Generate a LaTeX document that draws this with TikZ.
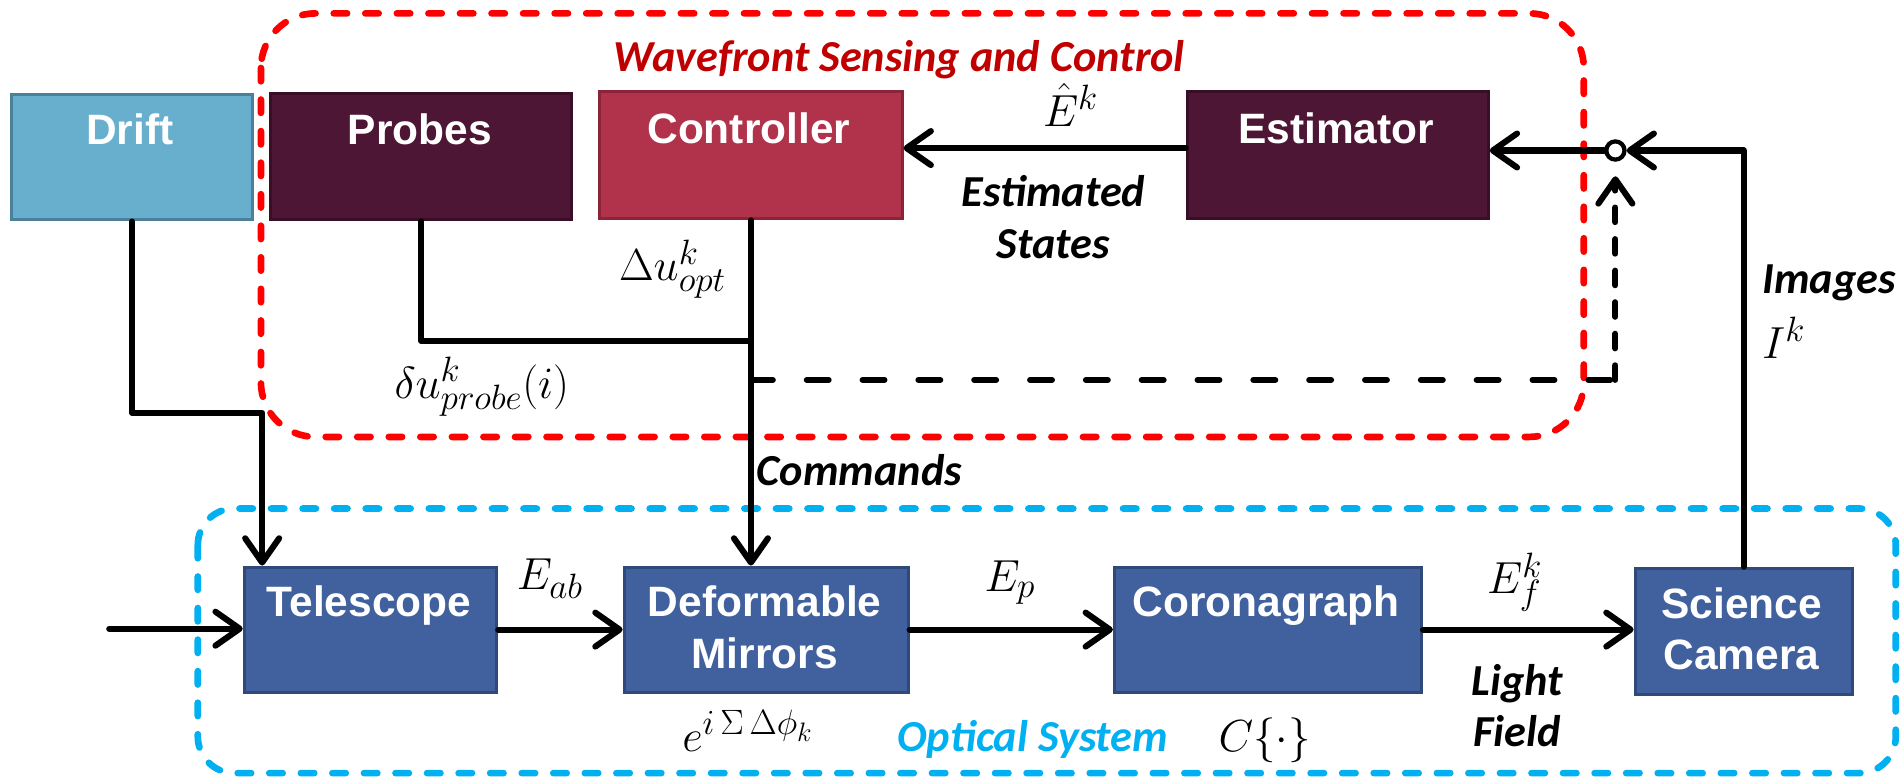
\RequirePackage{fix-cm}
\documentclass[tikz,border=0pt]{standalone}
\usepackage{fontspec}
\setmainfont{Liberation Sans}
\newfontfamily\gillfont{Carlito}
\DeclareMathSizes{37}{37}{29}{22}
\usetikzlibrary{arrows.meta,calc}
\definecolor{driftfill}{RGB}{103,175,205}
\definecolor{driftdraw}{RGB}{74,128,153}
\definecolor{maroonfill}{RGB}{77,22,52}
\definecolor{maroondraw}{RGB}{58,14,38}
\definecolor{ctrlfill}{RGB}{176,51,75}
\definecolor{ctrldraw}{RGB}{139,36,56}
\definecolor{optfill}{RGB}{65,97,158}
\definecolor{optdraw}{RGB}{47,74,122}
\definecolor{wfsred}{RGB}{255,0,0}
\definecolor{titlered}{RGB}{192,0,0}
\definecolor{optblue}{RGB}{0,176,240}
\tikzset{
  box/.style={draw, line width=2.5pt, anchor=north west, inner sep=0pt},
  btxt/.style={text=white, font=\fontsize{35}{40}\selectfont\bfseries, anchor=base, inner sep=0pt},
  itxt/.style={font=\gillfont\bfseries\itshape\fontsize{36.5}{40}\selectfont, anchor=base, inner sep=0pt},
  mtxt/.style={font=\fontsize{37}{40}\selectfont, anchor=base, inner sep=0pt},
  conn/.style={line width=5pt, line cap=round, line join=round},
  arr/.style={conn, -{Straight Barb[length=20pt,width=28pt,round]}},
  group/.style={line width=5.5pt, line cap=round, dash pattern=on 11pt off 15pt},
}
\begin{document}
\begin{tikzpicture}[x=1pt,y=-1pt]
\useasboundingbox (0,0) rectangle (1568,641);
% group frames
\draw[group, wfsred, rounded corners=45pt] (215,11) rectangle (1305,360);
\draw[group, optblue, rounded corners=30pt] (163,419) rectangle (1562,637);
% boxes
\node[box, fill=driftfill, draw=driftdraw, minimum width=199pt, minimum height=103pt] (drift) at (8,77) {};
\node[box, fill=maroonfill, draw=maroondraw, minimum width=248pt, minimum height=104pt] (probes) at (222,76) {};
\node[box, fill=ctrlfill, draw=ctrldraw, minimum width=249pt, minimum height=105pt] (ctrl) at (493,74) {};
\node[box, fill=maroonfill, draw=maroondraw, minimum width=248pt, minimum height=105pt] (est) at (977,74) {};
\node[box, fill=optfill, draw=optdraw, minimum width=208pt, minimum height=103pt] (tel) at (200,466) {};
\node[box, fill=optfill, draw=optdraw, minimum width=234pt, minimum height=103pt] (dm) at (513,466) {};
\node[box, fill=optfill, draw=optdraw, minimum width=253pt, minimum height=103pt] (cor) at (917,466) {};
\node[box, fill=optfill, draw=optdraw, minimum width=179pt, minimum height=104pt] (cam) at (1346,467) {};
% box labels
\node[btxt] (tdrift) at (107,119) {Drift};
\node[btxt] (tprobes) at (346,119) {Probes};
\node[btxt] (tctrl) at (617,118) {Controller};
\node[btxt] (test) at (1101,118) {Estimator};
\node[btxt] (ttel) at (304,508) {Telescope};
\node[btxt] (tdm1) at (630,508) {Deformable};
\node[btxt] (tdm2) at (630,551) {Mirrors};
\node[btxt] (tcor) at (1043,508) {Coronagraph};
\node[btxt] (tcam1) at (1435,510) {Science};
\node[btxt] (tcam2) at (1435,552) {Camera};
% summing junction
\node[circle, draw, line width=3.5pt, minimum size=15pt, inner sep=0pt, fill=white] (sum) at (1331,124) {};
% coordinates
\coordinate (c1) at (216,340);
\coordinate (j1) at (ctrl.south |- 0,281);
\coordinate (j2) at (ctrl.south |- 0,313);
\coordinate (c2) at (sum.center |- 0,313);
\coordinate (c3) at (cam.north |- sum.center);
\coordinate (in) at (90,518);
\coordinate (ew) at (est.west |- 0,122);
% connectors
\draw[arr] (drift.south) |- (c1) -- (c1 |- tel.north);
\draw[conn] (probes.south) |- (j1);
\draw[arr] (ctrl.south) -- (ctrl.south |- dm.north);
\draw[conn, dash pattern=on 18pt off 28pt] (j2) -- (c2);
\draw[conn, dash pattern=on 12pt off 14pt, -{Straight Barb[length=20pt,width=28pt,round]}, shorten >=12pt] (c2) -- (sum.south);
\draw[arr] (cam.north) -- (c3) -- (sum.east);
\draw[arr] (sum.west) -- (sum.west -| est.east);
\draw[arr] (ew) -- (ew -| ctrl.east);
\draw[arr] (in) -- (in -| tel.west);
\draw[arr] (tel.east) -- (dm.west);
\draw[arr] (dm.east) -- (cor.west);
\draw[arr] (cor.east) -- (cor.east -| cam.west);
% texts
\node[itxt, text=titlered] (title) at (741,59) {Wavefront Sensing and Control};
\node[itxt] (est1) at (868,170) {Estimated};
\node[itxt] (est2) at (868,213) {States};
\node[itxt] (cmd) at (708,400) {Commands};
\node[itxt, text=optblue] (opt) at (851,619) {Optical System};
\node[itxt] (lf1) at (1250,573) {Light};
\node[itxt] (lf2) at (1250,615) {Field};
\node[itxt, anchor=base west] (img) at (1452,242) {Images};
% math labels
\node[mtxt] (mE) at (882,104) {$\hat{E}^k$};
\node[mtxt] (mdu) at (554,231) {$\Delta u^k_{opt}$};
\node[mtxt] (mdp) at (397,328) {$\delta u^k_{probe}(i)$};
\node[mtxt] (mEab) at (453,486) {$E_{ab}$};
\node[mtxt] (mEp) at (832,487) {$E_p$};
\node[mtxt] (mEf) at (1248,489) {$E_f^k$};
\node[mtxt] (mphi) at (616,619) {$e^{i\,\Sigma\,\Delta\phi_k}$};
\node[mtxt] (mC) at (1042,619) {$C\{\cdot\}$};
\node[mtxt, anchor=base west] (mI) at (1452,295) {$I^k$};
\end{tikzpicture}
\end{document}
